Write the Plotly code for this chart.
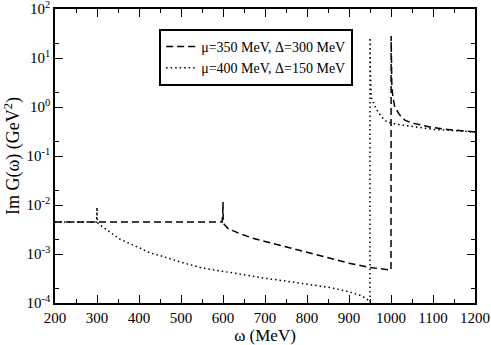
import plotly.graph_objects as go

# omega (MeV) and Im G (GeV^2)
w_a = [200, 598, 599.7, 600, 600.4, 601, 605, 612, 640, 671, 700, 750, 800, 850,
       900, 950, 999.8, 1000, 1000.3, 1000.6, 1001, 1002, 1005, 1009, 1020, 1033,
       1050, 1073, 1100, 1130, 1160, 1200]
g_a = [4.5e-3, 4.5e-3, 8e-3, 1.15e-2, 5e-3, 4.2e-3, 3.9e-3, 3.3e-3, 2.6e-3, 2.1e-3,
       1.8e-3, 1.4e-3, 1.05e-3, 8.3e-4, 6.5e-4, 5.3e-4, 4.7e-4, 4.7e-4, 28, 8, 4,
       2.5, 1.5, 1.0, 0.7, 0.54, 0.47, 0.42, 0.38, 0.35, 0.33, 0.31]

w_b = [200, 299, 299.7, 300, 300.5, 307, 330, 355, 400, 426, 450, 500, 550, 600,
       650, 700, 750, 800, 850, 900, 930, 943, 949.5, 949.9, 950.1, 951, 953, 960,
       969, 980, 990, 1010, 1033, 1073, 1100, 1150, 1200]
g_b = [4.5e-3, 4.5e-3, 7e-3, 9e-3, 4.4e-3, 3.9e-3, 2.8e-3, 2.0e-3, 1.35e-3, 1.05e-3,
       9.3e-4, 6.8e-4, 5.2e-4, 4.4e-4, 3.7e-4, 3.2e-4, 2.8e-4, 2.45e-4, 2.1e-4,
       1.7e-4, 1.4e-4, 1.2e-4, 1.05e-4, 5e-5, 26, 5, 1.6, 1.1, 0.8, 0.6, 0.5, 0.45,
       0.42, 0.37, 0.35, 0.33, 0.31]

y_ticks = [1e-4, 1e-3, 1e-2, 1e-1, 1e0, 1e1, 1e2]
y_text = ["10<sup>-4</sup>", "10<sup>-3</sup>", "10<sup>-2</sup>", "10<sup>-1</sup>",
          "10<sup>0</sup>", "10<sup>1</sup>", "10<sup>2</sup>"]
y_minor = [2e-4, 2e-3, 2e-2, 2e-1, 2e0, 2e1]

font = "Liberation Serif, Times New Roman, DejaVu Serif, serif"

fig = go.Figure()
fig.add_trace(go.Scatter(x=w_a, y=g_a, mode="lines",
                         name="\u03bc=350 MeV, \u0394=300 MeV",
                         line=dict(color="black", width=1.5, dash="7px,4px")))
fig.add_trace(go.Scatter(x=w_b, y=g_b, mode="lines",
                         name="\u03bc=400 MeV, \u0394=150 MeV",
                         line=dict(color="black", width=1.5, dash="1.5px,3px")))

axis_common = dict(showline=True, linecolor="black", linewidth=1.5, mirror="ticks",
                   ticks="inside", ticklen=8, tickwidth=1, tickcolor="black",
                   showgrid=False, zeroline=False, automargin=False,
                   ticklabeloverflow="allow",
                   tickfont=dict(family=font, size=15, color="black"))

fig.update_xaxes(range=[200, 1200], tickmode="array",
                 tickvals=list(range(200, 1201, 100)),
                 minor=dict(tickmode="array", tickvals=list(range(250, 1200, 100)),
                            ticks="inside", ticklen=4, tickcolor="black"),
                 title=dict(text="\u03c9 (MeV)", font=dict(family=font, size=17, color="black"),
                            standoff=4),
                 **axis_common)
fig.update_yaxes(type="log", range=[-4, 2], tickmode="array",
                 tickvals=y_ticks, ticktext=y_text,
                 minor=dict(tickmode="array", tickvals=y_minor,
                            ticks="inside", ticklen=4, tickcolor="black"),
                 title=dict(text="Im G(\u03c9) (GeV<sup>2</sup>)",
                            font=dict(family=font, size=18, color="black"), standoff=2),
                 **axis_common)

fig.update_layout(
    width=491, height=345,
    margin=dict(l=55, r=16, t=9, b=42),
    plot_bgcolor="white", paper_bgcolor="white",
    legend=dict(x=0.248, y=0.932, xanchor="left", yanchor="top",
                bordercolor="black", borderwidth=2, bgcolor="white",
                font=dict(family=font, size=14, color="black"),
                tracegroupgap=0, itemwidth=30),
    showlegend=True,
)

# drop the default page margin so the figure sits at the window corner
fig.write_html("out.html", config={"displayModeBar": False},
               post_script="document.body.style.margin='0';")
